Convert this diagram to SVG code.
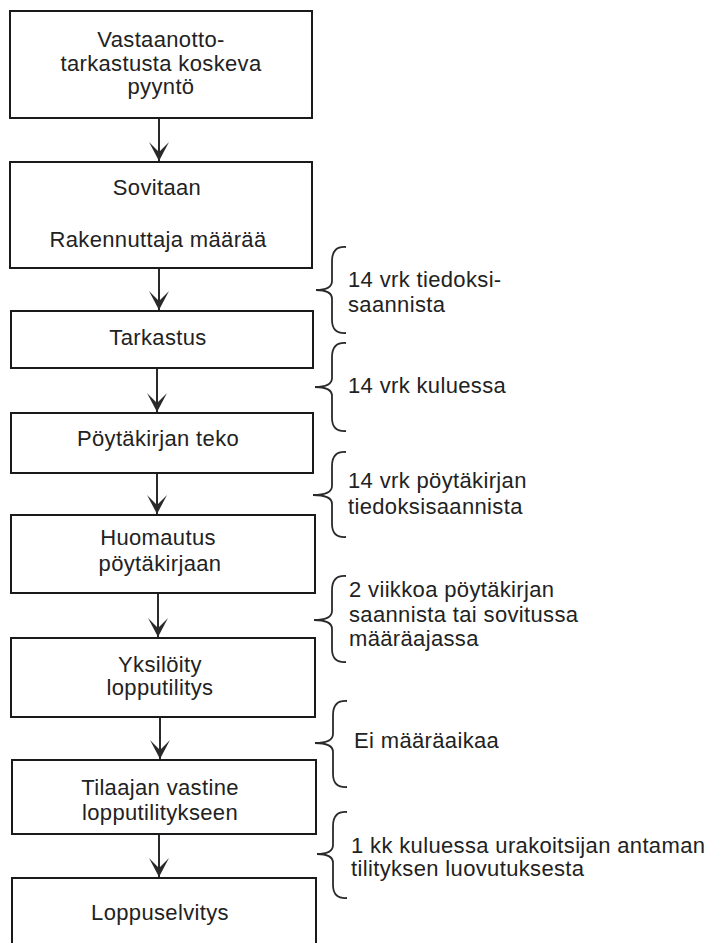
<svg xmlns="http://www.w3.org/2000/svg" width="711" height="943" viewBox="0 0 711 943">
<style>
.box{fill:#fff;stroke:#1a1a1a;stroke-width:2}
.t{font-family:"Liberation Sans",Arial,sans-serif;font-size:22px;letter-spacing:0.35px;fill:#222}
.c{text-anchor:middle}
.ln{stroke:#2a2a2a;stroke-width:2;fill:none}
.br{stroke:#2a2a2a;stroke-width:1.8;fill:none}
</style>
<defs>
<marker id="ah" markerUnits="userSpaceOnUse" viewBox="-20 -11 22 22" refX="0" refY="0" markerWidth="22" markerHeight="22" orient="auto">
<path d="M0,0 L-19,-10 L-9,0 L-19,10 z" fill="#2a2a2a"/>
</marker>
</defs>
<rect width="711" height="943" fill="#fff"/>
<g id="connectors">
<line class="ln" x1="159" y1="118" x2="159" y2="161" marker-end="url(#ah)"/>
<line class="ln" x1="159" y1="268" x2="159" y2="310" marker-end="url(#ah)"/>
<line class="ln" x1="157" y1="368" x2="157" y2="412" marker-end="url(#ah)"/>
<line class="ln" x1="157" y1="473" x2="157" y2="514" marker-end="url(#ah)"/>
<line class="ln" x1="158" y1="593" x2="158" y2="637" marker-end="url(#ah)"/>
<line class="ln" x1="160" y1="717" x2="160" y2="759" marker-end="url(#ah)"/>
<line class="ln" x1="159" y1="834" x2="159" y2="877" marker-end="url(#ah)"/>
</g>
<g id="n1"><rect class="box" x="10" y="11" width="302" height="107"/>
<text class="t c" x="161" y="47">Vastaanotto-</text>
<text class="t c" x="161" y="71">tarkastusta koskeva</text>
<text class="t c" x="161" y="94">pyyntö</text></g>
<g id="n2"><rect class="box" x="10" y="162" width="302" height="106"/>
<text class="t c" x="157" y="195">Sovitaan</text>
<text class="t c" x="158" y="247">Rakennuttaja määrää</text></g>
<g id="n3"><rect class="box" x="11" y="311" width="302" height="57"/>
<text class="t c" x="158" y="345">Tarkastus</text></g>
<g id="n4"><rect class="box" x="11" y="413" width="302" height="60"/>
<text class="t c" x="158" y="446">Pöytäkirjan teko</text></g>
<g id="n5"><rect class="box" x="11" y="515" width="304" height="78"/>
<text class="t c" x="158" y="545">Huomautus</text>
<text class="t c" x="160" y="571">pöytäkirjaan</text></g>
<g id="n6"><rect class="box" x="11" y="638" width="304" height="79"/>
<text class="t c" x="160" y="672">Yksilöity</text>
<text class="t c" x="160" y="695">lopputilitys</text></g>
<g id="n7"><rect class="box" x="12" y="760" width="304" height="74"/>
<text class="t c" x="160" y="795">Tilaajan vastine</text>
<text class="t c" x="160" y="820">lopputilitykseen</text></g>
<g id="n8"><rect class="box" x="12" y="878" width="304" height="90"/>
<text class="t c" x="160" y="920">Loppuselvitys</text></g>
<g id="braces">
<path class="br" d="M346,247 Q332,246 332,261 L332,281 Q332,290 316,290 Q332,290 332,299 L332,320 Q332,334 346,333"/>
<path class="br" d="M346,343 Q332,342 332,357 L332,378 Q332,387 315,387 Q332,387 332,396 L332,418 Q332,432 346,431"/>
<path class="br" d="M346,452 Q332,451 332,466 L332,486 Q332,495 313,495 Q332,495 332,504 L332,524 Q332,538 346,537"/>
<path class="br" d="M346,576 Q332,575 332,590 L332,611 Q332,620 314,620 Q332,620 332,629 L332,649 Q332,663 346,662"/>
<path class="br" d="M347,701 Q333,700 333,715 L333,734 Q333,743 315,743 Q333,743 333,752 L333,774 Q333,788 347,787"/>
<path class="br" d="M347,812 Q333,811 333,826 L333,845 Q333,854 317,854 Q333,854 333,863 L333,885 Q333,899 347,898"/>
</g>
<g id="labels">
<text class="t" x="348" y="287">14 vrk tiedoksi-</text>
<text class="t" x="348" y="312">saannista</text>
<text class="t" x="348" y="393">14 vrk kuluessa</text>
<text class="t" x="348" y="488">14 vrk pöytäkirjan</text>
<text class="t" x="348" y="514">tiedoksisaannista</text>
<text class="t" x="349" y="597">2 viikkoa pöytäkirjan</text>
<text class="t" x="349" y="622">saannista tai sovitussa</text>
<text class="t" x="349" y="646">määräajassa</text>
<text class="t" x="354" y="748">Ei määräaikaa</text>
<text class="t" x="351" y="853">1 kk kuluessa urakoitsijan antaman</text>
<text class="t" x="351" y="876">tilityksen luovutuksesta</text>
</g>
</svg>
